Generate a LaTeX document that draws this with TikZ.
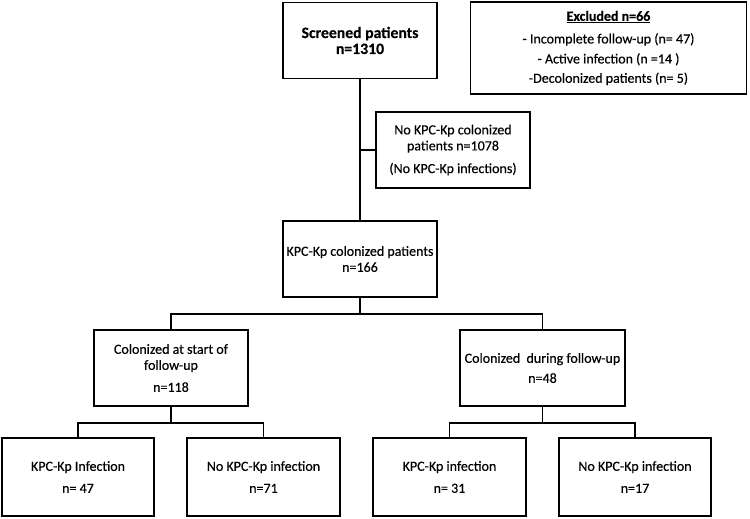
\documentclass[tikz,border=0pt]{standalone}
\usepackage{fontspec}
\setmainfont{Carlito}[FakeBold=0.35]
\begin{document}
\begin{tikzpicture}[x=0.75pt,y=-0.75pt,
  box/.style={draw,line width=1.3pt,inner sep=0pt,align=center,
    font=\fontsize{10.5}{12}\selectfont},
  bigbox/.style={box,minimum width=115.5pt,minimum height=57pt},
  leafbox/.style={box,minimum width=114.5pt,minimum height=58.5pt},
  link/.style={line width=1.3pt}]
\useasboundingbox (0,0) rectangle (750,518);
\node[bigbox,font=\bfseries\fontsize{11.8}{12}\selectfont] (scr) at (360,40.5)
  {Screened patients\\n=1310};
\node[box,minimum width=207pt,minimum height=69pt] (exc) at (608.5,48)
  {\textbf{\underline{Excluded n=66}}\\[5pt]
   - Incomplete follow-up (n= 47)\\[3pt]
   - Active infection (n =14 )\\[2.5pt]
   -Decolonized patients (n= 5)};
\node[bigbox] (nokpc) at (453,150)
  {No KPC-Kp colonized\\patients n=1078\\[5pt](No KPC-Kp infections)};
\node[bigbox] (kpc) at (360,259)
  {KPC-Kp colonized patients\\n=166};
\node[bigbox] (colA) at (171,368)
  {Colonized at start of\\follow-up\\[4.5pt]n=118};
\node[box,minimum width=123.75pt,minimum height=57pt] (colB) at (542.5,368)
  {Colonized\ \ during follow-up\\[3pt]n=48};
\node[leafbox] (l1) at (78,477) {KPC-Kp Infection\\[4.5pt]n= 47};
\node[leafbox] (l2) at (263.5,477) {No KPC-Kp infection\\[4.5pt]n=71};
\node[leafbox] (l3) at (449.5,477) {KPC-Kp infection\\[4.5pt]n= 31};
\node[leafbox] (l4) at (635,477) {No KPC-Kp infection\\[4.5pt]n=17};
\coordinate (j1) at ([yshift=-12pt]kpc.south);
\coordinate (j2) at ([yshift=-12pt]colA.south);
\coordinate (j3) at ([yshift=-12pt]colB.south);
\draw[link] (scr.south) -- (kpc.north);
\draw[link] (scr.south |- nokpc.west) -- (nokpc.west);
\draw[link] (kpc.south) -- (j1) -| (colA.north);
\draw[link] (j1) -| (colB.north);
\draw[link] (colA.south) -- (j2) -| (l1.north);
\draw[link] (j2) -| (l2.north);
\draw[link] (colB.south) -- (j3) -| (l3.north);
\draw[link] (j3) -| (l4.north);
\end{tikzpicture}
\end{document}
